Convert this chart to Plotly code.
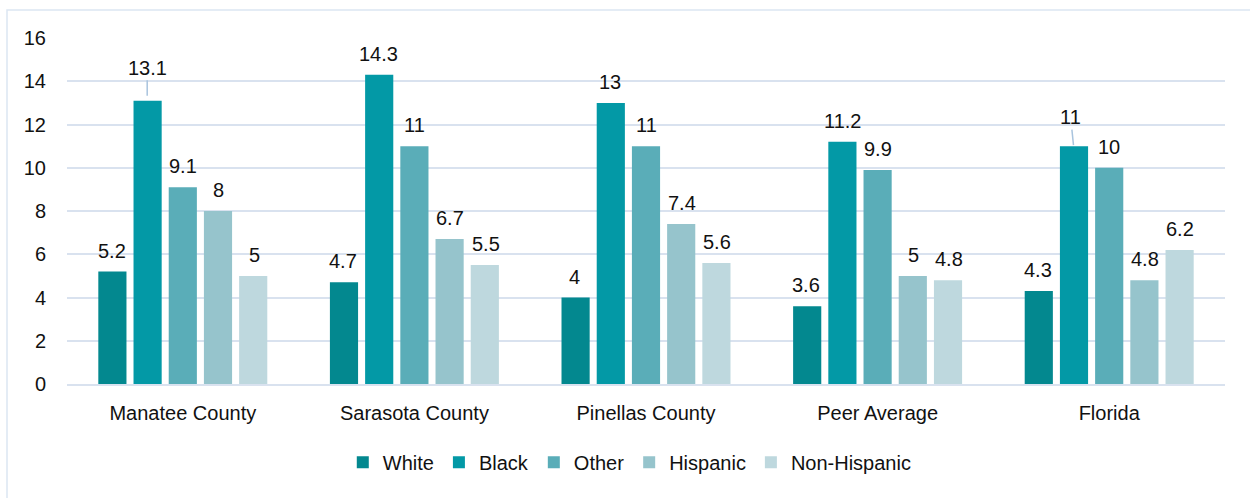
import plotly.graph_objects as go

categories = ["Manatee County", "Sarasota County", "Pinellas County", "Peer Average", "Florida"]
series_names = ["White", "Black", "Other", "Hispanic", "Non-Hispanic"]
white = [5.2, 4.7, 4.0, 3.6, 4.3]
black = [13.1, 14.3, 13.0, 11.2, 11.0]
other = [9.1, 11.0, 11.0, 9.9, 10.0]
hispanic = [8.0, 6.7, 7.4, 5.0, 4.8]
non_hispanic = [5.0, 5.5, 5.6, 4.8, 6.2]
y_ticks = [0, 2, 4, 6, 8, 10, 12, 14, 16]

colors = ["#03888F", "#0399A6", "#5AADB8", "#96C4CC", "#BED8DE"]
all_values = [white, black, other, hispanic, non_hispanic]

FONT = "Liberation Sans, Arial, sans-serif"
FS = 20

fig = go.Figure()
for name, vals, col in zip(series_names, all_values, colors):
    fig.add_trace(go.Bar(
        name=name, x=categories, y=vals, marker_color=col,
        marker_line_width=0,
    ))

n = len(series_names)
pitch = 35.6
annotations = []
for i, (name, vals) in enumerate(zip(series_names, all_values)):
    xshift = (i - (n - 1) / 2) * pitch
    for cat, v in zip(categories, vals):
        label = f"{v:g}"
        if name == "Black" and cat == "Manatee County":
            annotations.append(dict(x=cat, y=v, text=label, xshift=xshift, showarrow=True,
                                    arrowhead=0, arrowwidth=1.5, arrowcolor="#A9C4DE",
                                    ax=0, ay=-33, standoff=5,
                                    font=dict(size=FS, color="#111111", family=FONT)))
        elif name == "Black" and cat == "Florida":
            annotations.append(dict(x=cat, y=v, text=label, xshift=xshift, showarrow=True,
                                    arrowhead=0, arrowwidth=1.5, arrowcolor="#A9C4DE",
                                    ax=-3, ay=-29, standoff=1,
                                    font=dict(size=FS, color="#111111", family=FONT)))
        else:
            annotations.append(dict(x=cat, y=v, text=label, xshift=xshift, yshift=8,
                                    yanchor="bottom", showarrow=False,
                                    font=dict(size=FS, color="#111111", family=FONT)))

fig.update_layout(
    width=1250, height=498,
    margin=dict(l=67, r=25, t=38, b=114, autoexpand=False),
    paper_bgcolor="white", plot_bgcolor="white",
    barmode="group", bargap=0.24, bargroupgap=0.2,
    font=dict(family=FONT, size=FS, color="#111111"),
    annotations=annotations,
    showlegend=True,
    legend=dict(orientation="h", x=0.486, xanchor="center", y=-0.17, yanchor="top",
                font=dict(size=FS, family=FONT, color="#111111"),
                itemwidth=30, traceorder="normal"),
    shapes=[dict(type="rect", xref="paper", yref="paper",
                 x0=(7 - 67) / 1158, x1=1.2, y0=-0.6, y1=(384 - 10) / 346,
                 line=dict(color="#DCE6F2", width=1.5), fillcolor="rgba(0,0,0,0)", layer="below")],
)
fig.update_xaxes(showgrid=False, showline=True, linecolor="#D9E2EF", linewidth=2,
                 ticks="", automargin=False, ticklabelstandoff=10,
                 tickfont=dict(size=FS, family=FONT, color="#111111"))
fig.update_yaxes(range=[0, 16], tickvals=y_ticks, showgrid=True, gridcolor="#D9E2EF",
                 gridwidth=2, zeroline=False, showline=False, ticks="", automargin=False,
                 tickfont=dict(size=FS, family=FONT, color="#111111"), ticklabelstandoff=20)

fig.write_html("out.html", config={"displayModeBar": False},
               post_script="document.body.style.margin='0';document.body.style.overflow='hidden';")
